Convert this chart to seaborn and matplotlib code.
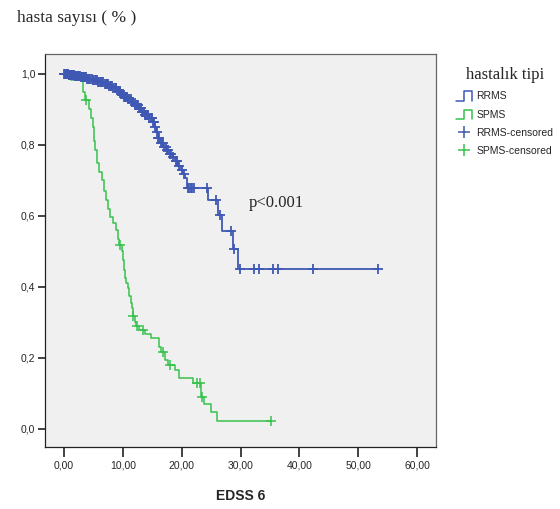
import numpy as np
import pandas as pd
import seaborn as sns
from matplotlib import pyplot as plt
from matplotlib.lines import Line2D
from matplotlib.legend_handler import HandlerBase

# RRMS step curve (time, cumulative survival)
rrms_time = [0, 0.8, 1.8, 2.8, 3.8, 4.8, 5.8, 6.8, 7.6, 8.3, 9.0, 9.6, 10.2, 10.8,
             11.4, 12.0, 12.6, 13.2, 13.8, 14.4, 15.0, 15.4, 15.7, 15.9, 16.3, 16.9,
             17.5, 18.0, 18.5, 18.9, 19.3, 19.8, 20.2, 20.6, 20.9, 24.4, 26.2, 26.8,
             28.7, 29.6, 53.4]
rrms_surv = [1.0, 0.997, 0.994, 0.99, 0.986, 0.982, 0.977, 0.972, 0.966, 0.96, 0.952,
             0.944, 0.936, 0.928, 0.92, 0.912, 0.903, 0.894, 0.885, 0.875, 0.865, 0.85,
             0.835, 0.82, 0.805, 0.795, 0.785, 0.775, 0.765, 0.755, 0.74, 0.728, 0.718,
             0.707, 0.679, 0.645, 0.603, 0.558, 0.507, 0.451, 0.451]
rrms_censored = [0.0, 0.1, 0.2, 0.3, 0.4, 0.5, 0.6, 0.7, 0.8, 0.9, 1.0, 1.1, 1.2, 1.3,
                 1.4, 1.5, 1.6, 1.7, 1.85, 2.0, 2.15, 2.3, 2.45, 2.6, 2.75, 2.9, 3.05,
                 3.2, 3.35, 3.5, 3.7, 3.9, 4.1, 4.3, 4.5, 4.7, 4.85, 5.0, 5.2, 5.4, 5.6,
                 5.8, 6.0, 6.2, 6.35, 6.5, 6.7, 6.9, 7.05, 7.2, 7.35, 7.5, 7.7, 7.9,
                 8.05, 8.2, 8.4, 8.6, 8.75, 8.9, 9.1, 9.3, 9.5, 9.7, 9.85, 10.0, 10.2,
                 10.4, 10.55, 10.7, 10.9, 11.1, 11.3, 11.5, 11.65, 11.8, 12.0, 12.2,
                 12.35, 12.5, 12.7, 12.9, 13.1, 13.3, 13.45, 13.6, 13.8, 14.0, 14.15,
                 14.3, 14.5, 14.7, 14.9, 15.1, 15.3, 15.5, 15.8, 16.0, 16.2, 16.4, 16.6,
                 16.8, 17.0, 17.3, 17.5, 17.7, 18.0, 18.2, 18.6, 19.0, 19.2, 19.5, 20.0,
                 20.4, 21.1, 21.3, 21.5, 21.7, 22.1, 24.3, 25.8, 26.5, 28.4, 28.8, 29.9,
                 32.3, 33.2, 35.5, 36.4, 42.3, 53.4]

# SPMS step curve
spms_time = [0, 1.2, 3.2, 3.5, 4.2, 4.6, 4.9, 5.1, 5.3, 5.6, 6.0, 6.4, 6.8, 7.1, 7.4,
             7.8, 8.3, 8.9, 9.2, 9.4, 9.8, 10.0, 10.2, 10.4, 10.6, 10.9, 11.1, 11.3,
             11.5, 11.7, 12.0, 12.3, 12.8, 13.7, 14.8, 16.1, 16.5, 17.1, 17.6, 18.8,
             19.5, 21.9, 23.3, 23.8, 25.0, 26.0, 35.2]
spms_surv = [1.0, 0.983, 0.95, 0.927, 0.90, 0.875, 0.85, 0.81, 0.785, 0.75, 0.725, 0.70,
             0.67, 0.645, 0.62, 0.598, 0.58, 0.56, 0.535, 0.518, 0.50, 0.475, 0.448,
             0.425, 0.41, 0.397, 0.375, 0.355, 0.34, 0.318, 0.30, 0.29, 0.279, 0.268,
             0.256, 0.232, 0.217, 0.194, 0.18, 0.166, 0.143, 0.13, 0.09, 0.07, 0.048,
             0.023, 0.023]
spms_censored = [3.7, 9.5, 11.8, 12.4, 13.5, 16.8, 18.0, 22.6, 23.1, 23.5, 35.2]

x_ticks = [0, 10, 20, 30, 40, 50, 60]
x_tick_labels = ["0,00", "10,00", "20,00", "30,00", "40,00", "50,00", "60,00"]
y_ticks = [0.0, 0.2, 0.4, 0.6, 0.8, 1.0]
y_tick_labels = ["0,0", "0,2", "0,4", "0,6", "0,8", "1,0"]

blue = "#3E58B4"
green = "#36C24C"


def censor_points(times, surv, cens):
    idx = np.searchsorted(times, cens, side="right") - 1
    return pd.DataFrame({"t": cens, "s": np.asarray(surv)[idx]})


class StepHandler(HandlerBase):
    def create_artists(self, legend, orig, xd, yd, w, h, fontsize, trans):
        x0, y0 = -xd, -yd - 0.15 * h
        hh = h * 1.25
        xs = [x0, x0 + 0.5 * w, x0 + 0.5 * w, x0 + w, x0 + w]
        ys = [y0, y0, y0 + hh, y0 + hh, y0]
        ln = Line2D(xs, ys, color=orig.get_color(), lw=1.1, transform=trans)
        return [ln]


sns.set_style("white")
plt.rcParams["font.family"] = ["Liberation Sans", "DejaVu Sans"]

fig = plt.figure(figsize=(5.6, 5.09), dpi=100)
ax = fig.add_axes([45 / 560, 1 - 447 / 509, 391 / 560, 393 / 509])
ax.set_facecolor("#F0F0F0")

rr = pd.DataFrame({"t": rrms_time, "s": rrms_surv})
sp = pd.DataFrame({"t": spms_time, "s": spms_surv})
sns.lineplot(data=sp, x="t", y="s", drawstyle="steps-post", color=green, lw=1.1,
             estimator=None, sort=False, ax=ax)
sns.lineplot(data=rr, x="t", y="s", drawstyle="steps-post", color=blue, lw=1.3,
             estimator=None, sort=False, ax=ax)
sns.scatterplot(data=censor_points(spms_time, spms_surv, spms_censored), x="t", y="s",
                marker="+", s=45, color=green, linewidth=1.1, ax=ax, zorder=3)
sns.scatterplot(data=censor_points(rrms_time, rrms_surv, rrms_censored), x="t", y="s",
                marker="+", s=55, color=blue, linewidth=1.3, ax=ax, zorder=4)

ax.set_xlim(-3.23, 63.2)
ax.set_ylim(-0.051, 1.056)
ax.set_xticks(x_ticks)
ax.set_xticklabels(x_tick_labels, fontsize=7.5)
ax.set_yticks(y_ticks)
ax.set_yticklabels(y_tick_labels, fontsize=7.5)
ax.tick_params(axis="both", bottom=True, left=True, direction="out", length=5,
               width=1.2, color="#222222", pad=2)
ax.tick_params(axis="x", length=7, pad=3)
for side in ["top", "right", "bottom", "left"]:
    ax.spines[side].set_color("#666666")
    ax.spines[side].set_linewidth(0.9)
ax.spines["left"].set_color("#222222")
ax.spines["bottom"].set_color("#222222")
ax.set_xlabel("EDSS 6", fontsize=10, fontweight="bold", labelpad=13)
ax.set_ylabel("")

ax.text(31.3, 0.637, "p<0.001", fontsize=12, family="Liberation Serif", va="center")
fig.text(17 / 560, 1 - 18 / 509, "hasta sayısı ( % )", fontsize=12.5,
         family="Liberation Serif", va="center", ha="left")

handles = [Line2D([], [], color=blue), Line2D([], [], color=green),
           Line2D([], [], marker="+", ls="none", color=blue, markersize=8, mew=1.1),
           Line2D([], [], marker="+", ls="none", color=green, markersize=8, mew=1.1)]
labels = ["RRMS", "SPMS", "RRMS-censored", "SPMS-censored"]
leg = fig.legend(handles, labels, loc="upper left", bbox_to_anchor=(447 / 560, 1 - 58 / 509),
                 frameon=False, fontsize=7.5, handlelength=1.5, handletextpad=0.4,
                 labelspacing=0.78, title="hastalık tipi",
                 title_fontproperties={"family": "Liberation Serif", "size": 12},
                 handler_map={handles[0]: StepHandler(), handles[1]: StepHandler()})

fig.savefig("out.png", dpi=100)
